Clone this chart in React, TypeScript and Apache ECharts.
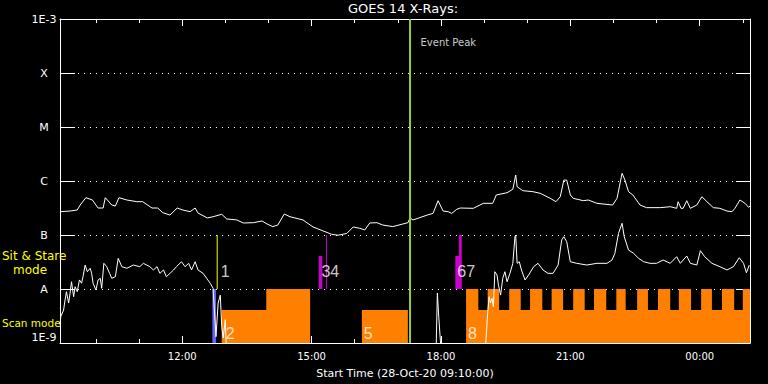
import React, { useEffect, useRef } from "react";
import * as echarts from "echarts";

// ---- data (times are clock times on 28/29-Oct-2020, flux in W/m^2) ----
const START = "09:10";
const END = "01:10";
const PEAK = "17:17";

const hourTicks = [10, 11, 12, 13, 14, 15, 16, 17, 18, 19, 20, 21, 22, 23, 24, 25];
const hourLabels = [12, 15, 18, 21, 24];
const classLabels: [number, string][] = [
  [-3, "1E-3"], [-4, "X"], [-5, "M"], [-6, "C"], [-7, "B"], [-8, "A"], [-9, "1E-9"],
];

const longChannel: [string, number][] = [
  ["09:10", 2.7e-7], ["09:24", 2.78e-7], ["09:34", 2.9e-7], ["09:38", 3.59e-7], ["09:46", 4.91e-7],
  ["09:55", 4.45e-7], ["10:03", 3.16e-7], ["10:10", 3.16e-7], ["10:13", 4.91e-7], ["10:22", 3.59e-7],
  ["10:27", 3.44e-7], ["10:32", 4.91e-7], ["10:43", 4.45e-7], ["10:57", 4.14e-7], ["11:05", 4.14e-7],
  ["11:18", 3.16e-7], ["11:26", 3.16e-7], ["11:33", 2.59e-7], ["11:43", 2.34e-7], ["11:53", 3.16e-7],
  ["12:01", 2.9e-7], ["12:11", 2.7e-7], ["12:18", 3.16e-7], ["12:22", 2.55e-7], ["12:35", 2.07e-7],
  ["12:43", 2.18e-7], ["12:55", 2.42e-7], ["13:02", 1.98e-7], ["13:16", 1.9e-7], ["13:25", 1.67e-7],
  ["13:39", 1.69e-7], ["13:51", 1.82e-7], ["13:58", 1.6e-7], ["14:06", 1.43e-7], ["14:13", 1.53e-7],
  ["14:22", 2.45e-7], ["14:30", 2.18e-7], ["14:48", 1.9e-7], ["15:02", 1.41e-7], ["15:16", 1.19e-7],
  ["15:28", 1.03e-7], ["15:37", 9.9e-8], ["15:49", 1.07e-7], ["15:58", 1.41e-7], ["16:07", 1.33e-7],
  ["16:14", 1.24e-7], ["16:21", 1.67e-7], ["16:31", 1.69e-7], ["16:39", 1.53e-7], ["16:53", 1.43e-7],
  ["17:07", 1.6e-7], ["17:14", 1.69e-7], ["17:17", 2.07e-7], ["17:21", 1.9e-7], ["17:28", 2.04e-7],
  ["17:41", 2.34e-7], ["17:49", 2.51e-7], ["17:56", 4.32e-7], ["18:03", 2.78e-7], ["18:10", 2.7e-7],
  ["18:15", 2.51e-7], ["18:22", 2.99e-7], ["18:27", 3.16e-7], ["18:45", 3.12e-7], ["18:59", 3.86e-7],
  ["19:12", 3.86e-7], ["19:17", 5.51e-7], ["19:32", 6.07e-7], ["19:40", 7.02e-7], ["19:44", 1.29e-6],
  ["19:46", 7.84e-7], ["19:54", 6.61e-7], ["20:08", 6.34e-7], ["20:18", 5.92e-7], ["20:32", 4.78e-7],
  ["20:40", 4.14e-7], ["20:46", 5.12e-7], ["20:51", 1.04e-6], ["20:55", 1.04e-6], ["21:00", 5.51e-7],
  ["21:04", 4.78e-7], ["21:18", 4.32e-7], ["21:25", 4.45e-7], ["21:37", 3.86e-7], ["21:59", 3.59e-7],
  ["22:05", 4.78e-7], ["22:12", 1.39e-6], ["22:16", 1.04e-6], ["22:21", 6.34e-7], ["22:27", 5.51e-7],
  ["22:37", 3.59e-7], ["22:46", 3.21e-7], ["23:05", 3.21e-7], ["23:19", 3.34e-7], ["23:28", 3.12e-7],
  ["23:30", 4.14e-7], ["23:34", 3.12e-7], ["23:37", 3.12e-7], ["23:42", 4.32e-7], ["23:47", 3.12e-7],
  ["23:56", 3.59e-7], ["00:03", 5.12e-7], ["00:10", 4.14e-7], ["00:19", 3.21e-7], ["00:28", 3.12e-7],
  ["00:38", 2.78e-7], ["00:45", 2.7e-7], ["00:49", 3.12e-7], ["00:56", 4.45e-7], ["01:03", 3.86e-7],
  ["01:08", 3.26e-7], ["01:10", 3.44e-7],
];

const shortChannel: [string, number | null][] = [
  ["09:10", 2.15e-9], ["09:11", 3.07e-9], ["09:15", 4.08e-9], ["09:17", 6.25e-9], ["09:19", 8.9e-9],
  ["09:22", 5.5e-9], ["09:24", 8.4e-9], ["09:26", 1.36e-8], ["09:29", 7.2e-9], ["09:31", 1.1e-8],
  ["09:34", 8.9e-9], ["09:37", 1.47e-8], ["09:40", 1.28e-8], ["09:42", 1.69e-8], ["09:45", 2.78e-8],
  ["09:48", 2.09e-8], ["09:52", 2.42e-8], ["09:54", 1.95e-8], ["09:56", 1.28e-8], ["10:00", 9.6e-9],
  ["10:03", 1.47e-8], ["10:06", 1.58e-8], ["10:08", 1.03e-8], ["10:11", 2.99e-8], ["10:15", 2.59e-8],
  ["10:19", 1.95e-8], ["10:22", 1.58e-8], ["10:27", 1.69e-8], ["10:31", 3.7e-8], ["10:36", 2.59e-8],
  ["10:43", 2.42e-8], ["10:52", 2.78e-8], ["11:01", 2.59e-8], ["11:06", 2.99e-8], ["11:15", 2.59e-8],
  ["11:20", 2.25e-8], ["11:25", 2.59e-8], ["11:29", 1.95e-8], ["11:34", 2.25e-8], ["11:38", 1.69e-8],
  ["11:43", 1.95e-8], ["11:48", 2.25e-8], ["11:52", 2.59e-8], ["11:59", 3.2e-8], ["12:04", 2.59e-8],
  ["12:09", 2.99e-8], ["12:13", 2.25e-8], ["12:18", 3.2e-8], ["12:22", 2.25e-8], ["12:29", 1.95e-8],
  ["12:34", 1.58e-8], ["12:39", 1.28e-8], ["12:43", 1.03e-8], ["12:47", 1.31e-9], ["12:50", 5.5e-9],
  ["12:53", 7.7e-9], ["12:55", 2.0e-9], ["12:57", 1.24e-9], ["13:00", 2.7e-9], ["13:02", 5e-10],
  ["13:03", null],
  ["17:53", 5e-10], ["17:55", 8.4e-9], ["17:57", 3.0e-9], ["18:01", 5e-10], ["18:02", null],
  ["19:01", 5e-10], ["19:05", 3.6e-9], ["19:07", 7.2e-9], ["19:09", 5.5e-9], ["19:11", 6.7e-9],
  ["19:13", 4.7e-9], ["19:15", 2.09e-8], ["19:18", 1.82e-8], ["19:20", 1.19e-8], ["19:23", 7.7e-9],
  ["19:26", 1.58e-8], ["19:29", 2.09e-8], ["19:32", 1.36e-8], ["19:36", 1.95e-8], ["19:40", 2.99e-8],
  ["19:43", 9.3e-8], ["19:44", 1.0e-7], ["19:46", 2.99e-8], ["19:49", 3.2e-8], ["19:52", 2.25e-8],
  ["19:57", 1.47e-8], ["20:02", 1.82e-8], ["20:09", 2.59e-8], ["20:15", 2.99e-8], ["20:22", 2.25e-8],
  ["20:29", 1.95e-8], ["20:36", 1.95e-8], ["20:43", 2.78e-8], ["20:48", 8.1e-8], ["20:51", 9.3e-8],
  ["20:55", 7.5e-8], ["21:00", 3.2e-8], ["21:09", 2.99e-8], ["21:23", 2.78e-8], ["21:37", 2.99e-8],
  ["21:51", 2.99e-8], ["21:58", 3.44e-8], ["22:02", 4.58e-8], ["22:07", 1.07e-7], ["22:12", 1.65e-7],
  ["22:15", 9.3e-8], ["22:21", 5.27e-8], ["22:28", 4.58e-8], ["22:35", 3.7e-8], ["22:42", 3.2e-8],
  ["22:51", 2.99e-8], ["23:00", 2.99e-8], ["23:09", 3.44e-8], ["23:19", 2.99e-8], ["23:28", 3.96e-8],
  ["23:33", 2.99e-8], ["23:42", 4.08e-8], ["23:47", 2.99e-8], ["23:56", 2.78e-8], ["00:01", 5.12e-8],
  ["00:07", 3.96e-8], ["00:17", 2.99e-8], ["00:28", 2.59e-8], ["00:38", 2.25e-8], ["00:47", 2.59e-8],
  ["00:55", 3.8e-8], ["01:01", 2.99e-8], ["01:05", 2.0e-8], ["01:09", 2.78e-8],
];

// Scan-mode state changes: [time, level] (level holds until the next change)
const SCAN_OFF = 1e-9;
const SCAN_LOW = 4.1e-9;
const SCAN_HIGH = 1e-8;
const scanSteps: [string, number][] = [
  ["09:10", SCAN_OFF], ["12:55", SCAN_LOW], ["13:57", SCAN_HIGH], ["14:58", SCAN_OFF],
  ["16:10", SCAN_LOW], ["17:14", SCAN_OFF], ["18:35", SCAN_HIGH], ["18:52", SCAN_LOW],
  ["19:05", SCAN_HIGH], ["19:21", SCAN_LOW], ["19:35", SCAN_HIGH], ["19:51", SCAN_LOW],
  ["20:04", SCAN_HIGH], ["20:21", SCAN_LOW], ["20:34", SCAN_HIGH], ["20:50", SCAN_LOW],
  ["21:04", SCAN_HIGH], ["21:20", SCAN_LOW], ["21:33", SCAN_HIGH], ["21:50", SCAN_LOW],
  ["22:04", SCAN_HIGH], ["22:17", SCAN_LOW], ["22:33", SCAN_HIGH], ["22:48", SCAN_LOW],
  ["23:02", SCAN_HIGH], ["23:19", SCAN_LOW], ["23:31", SCAN_HIGH], ["23:48", SCAN_LOW],
  ["00:02", SCAN_HIGH], ["00:17", SCAN_LOW], ["00:31", SCAN_HIGH], ["00:48", SCAN_LOW],
  ["01:00", SCAN_HIGH], ["01:17", SCAN_HIGH],
];

// Observation bars: [start, end, bottom flux, top flux, kind]
const obsBars: [string, string, number, number, string][] = [
  ["12:42", "12:47", 1e-9, 1e-8, "blue"],
  ["12:48", "12:49", 1e-8, 1e-7, "yellow"],
  ["15:10", "15:15", 1e-8, 4.1e-8, "magenta"],
  ["15:20", "15:21", 1e-8, 1e-7, "magenta"],
  ["18:20", "18:29", 1e-8, 4.1e-8, "magenta"],
  ["18:25", "18:29", 4.1e-8, 1e-7, "magenta"],
];

// Event numbers: [time, flux, text]
const eventLabels: [string, number, string][] = [
  ["12:53", 2.07e-8, "1"],
  ["13:00", 1.53e-9, "2"],
  ["15:13", 2.15e-8, "34"],
  ["16:12", 1.53e-9, "5"],
  ["18:22", 2.07e-8, "67"],
  ["18:37", 1.53e-9, "8"],
];
const peakLabelFlux = 3.6e-4;

// ---- helpers / styles ----
const toHours = (s: string) => {
  const [h, m] = s.split(":").map(Number);
  let v = h + m / 60;
  if (v < 9) v += 24;
  return v;
};
const BAR_COLORS: Record<string, string> = {
  blue: "#6464ff",
  yellow: "#ffff00",
  magenta: "#cc00cc",
};
const FONT = "DejaVu Sans";
const WHITE = "#ffffff";

export default function App() {
  const ref = useRef<HTMLDivElement>(null);

  useEffect(() => {
    if (!ref.current) return;
    const chart = echarts.init(ref.current, null, { renderer: "svg" });
    const xMin = toHours(START);
    const xMax = toHours(END);
    const classMap: Record<number, string> = {};
    classLabels.forEach(([e, t]) => (classMap[e] = t));
    const hourFmt = (v: number) => String(Math.round(v) % 24).padStart(2, "0") + ":00";

    const baseX = {
      type: "value" as const,
      min: xMin,
      max: xMax,
      splitLine: { show: false },
    };

    const option: any = {
      animation: false,
      backgroundColor: "#000000",
      title: {
        text: "GOES 14 X-Rays:",
        left: 403,
        top: 2,
        textAlign: "center",
        padding: 0,
        textStyle: { color: WHITE, fontSize: 13, fontWeight: "normal", fontFamily: FONT },
      },
      grid: { left: 60, top: 19, width: 690, height: 324, containLabel: false },
      xAxis: [
        {
          ...baseX,
          position: "bottom",
          axisLine: { show: true, lineStyle: { color: WHITE, width: 1 } },
          axisTick: { show: true, inside: true, length: 4, customValues: hourTicks, lineStyle: { color: WHITE } },
          axisLabel: {
            show: true,
            customValues: hourLabels,
            formatter: hourFmt,
            color: WHITE,
            fontSize: 10,
            fontFamily: FONT,
            margin: 8,
          },
          name: "Start Time (28-Oct-20 09:10:00)",
          nameLocation: "middle",
          nameGap: 25,
          nameTextStyle: { color: WHITE, fontSize: 11, fontFamily: FONT },
        },
        {
          ...baseX,
          position: "bottom",
          axisLine: { show: false },
          axisTick: { show: true, inside: true, length: 7, customValues: hourLabels, lineStyle: { color: WHITE } },
          axisLabel: { show: false },
        },
        {
          ...baseX,
          position: "top",
          axisLine: { show: true, lineStyle: { color: WHITE, width: 1 } },
          axisTick: { show: true, inside: true, length: 4, customValues: hourTicks, lineStyle: { color: WHITE } },
          axisLabel: { show: false },
        },
        {
          ...baseX,
          position: "top",
          axisLine: { show: false },
          axisTick: { show: true, inside: true, length: 7, customValues: hourLabels, lineStyle: { color: WHITE } },
          axisLabel: { show: false },
        },
      ],
      yAxis: [
        {
          type: "log",
          logBase: 10,
          min: 1e-9,
          max: 1e-3,
          position: "left",
          axisLine: { show: true, lineStyle: { color: WHITE, width: 1 } },
          axisTick: { show: true, inside: true, length: 15, lineStyle: { color: WHITE } },
          axisLabel: {
            color: WHITE,
            fontSize: 11,
            fontFamily: FONT,
            align: "center",
            margin: 16,
            verticalAlignMaxLabel: "top",
            verticalAlignMinLabel: "bottom",
            formatter: (v: number) => classMap[Math.round(Math.log10(v))] ?? "",
          },
          splitLine: { show: true, lineStyle: { color: WHITE, width: 1, type: [1, 5] } },
        },
        {
          type: "log",
          logBase: 10,
          min: 1e-9,
          max: 1e-3,
          position: "right",
          axisLine: { show: true, lineStyle: { color: WHITE, width: 1 } },
          axisTick: { show: true, inside: true, length: 14, lineStyle: { color: WHITE } },
          axisLabel: { show: false },
          splitLine: { show: false },
        },
      ],
      graphic: [
        { type: "text", left: 2, top: 250, style: { text: "Sit & Stare", fill: "#ffff00", font: `12px '${FONT}'` } },
        { type: "text", left: 13, top: 264, style: { text: "mode", fill: "#ffff00", font: `12px '${FONT}'` } },
        { type: "text", left: 2, top: 317, style: { text: "Scan mode", fill: "#ffff00", font: `10.5px '${FONT}'` } },
      ],
      series: [
        {
          name: "scan",
          type: "line",
          step: "end",
          silent: true,
          clip: false,
          z: 1,
          showSymbol: false,
          symbol: "none",
          lineStyle: { width: 0, opacity: 0 },
          areaStyle: { color: "#ff8000", opacity: 1, origin: "start" },
          data: scanSteps.map(([t, v]) => [toHours(t), v]),
        },
        {
          name: "bars",
          type: "custom",
          silent: true,
          z: 2,
          data: obsBars.map(([t0, t1, lo, hi]) => [toHours(t0), lo, toHours(t1), hi]),
          renderItem: (params: any, api: any) => {
            const a = api.coord([api.value(0), api.value(3)]);
            const b = api.coord([api.value(2), api.value(1)]);
            const kind = obsBars[params.dataIndex][4];
            return {
              type: "rect",
              shape: { x: a[0], y: a[1], width: Math.max(1, b[0] - a[0]), height: b[1] - a[1] },
              style: { fill: BAR_COLORS[kind] },
            };
          },
        },
        {
          name: "long",
          type: "line",
          silent: true,
          z: 4,
          showSymbol: false,
          symbol: "none",
          lineStyle: { color: WHITE, width: 1 },
          data: longChannel.map(([t, v]) => [toHours(t), v]),
        },
        {
          name: "short",
          type: "line",
          silent: true,
          z: 4,
          showSymbol: false,
          symbol: "none",
          connectNulls: false,
          lineStyle: { color: WHITE, width: 1 },
          data: shortChannel.map(([t, v]) => [toHours(t), v]),
        },
        {
          name: "peak",
          type: "line",
          silent: true,
          z: 5,
          showSymbol: false,
          symbol: "none",
          lineStyle: { color: "#9acd32", width: 2 },
          data: [
            [toHours(PEAK), 1e-9],
            [toHours(PEAK), 1e-3],
          ],
        },
        {
          name: "peakLabel",
          type: "scatter",
          silent: true,
          z: 6,
          symbolSize: 1,
          itemStyle: { color: "rgba(0,0,0,0)" },
          label: {
            show: true,
            position: "right",
            distance: 10,
            formatter: "Event Peak",
            color: WHITE,
            fontSize: 10,
            fontFamily: FONT,
          },
          data: [[toHours(PEAK), peakLabelFlux]],
        },
        {
          name: "events",
          type: "scatter",
          silent: true,
          z: 6,
          symbolSize: 1,
          itemStyle: { color: "rgba(0,0,0,0)" },
          label: {
            show: true,
            position: "right",
            distance: 0,
            formatter: (p: any) => eventLabels[p.dataIndex][2],
            color: WHITE,
            fontSize: 16,
            fontFamily: "Liberation Sans",
          },
          data: eventLabels.map(([t, v]) => [toHours(t), v]),
        },
      ],
    };
    chart.setOption(option);
    return () => chart.dispose();
  }, []);

  return (
    <div
      ref={ref}
      style={{ position: "fixed", left: 0, top: 0, width: 768, height: 384, background: "#000" }}
    />
  );
}
